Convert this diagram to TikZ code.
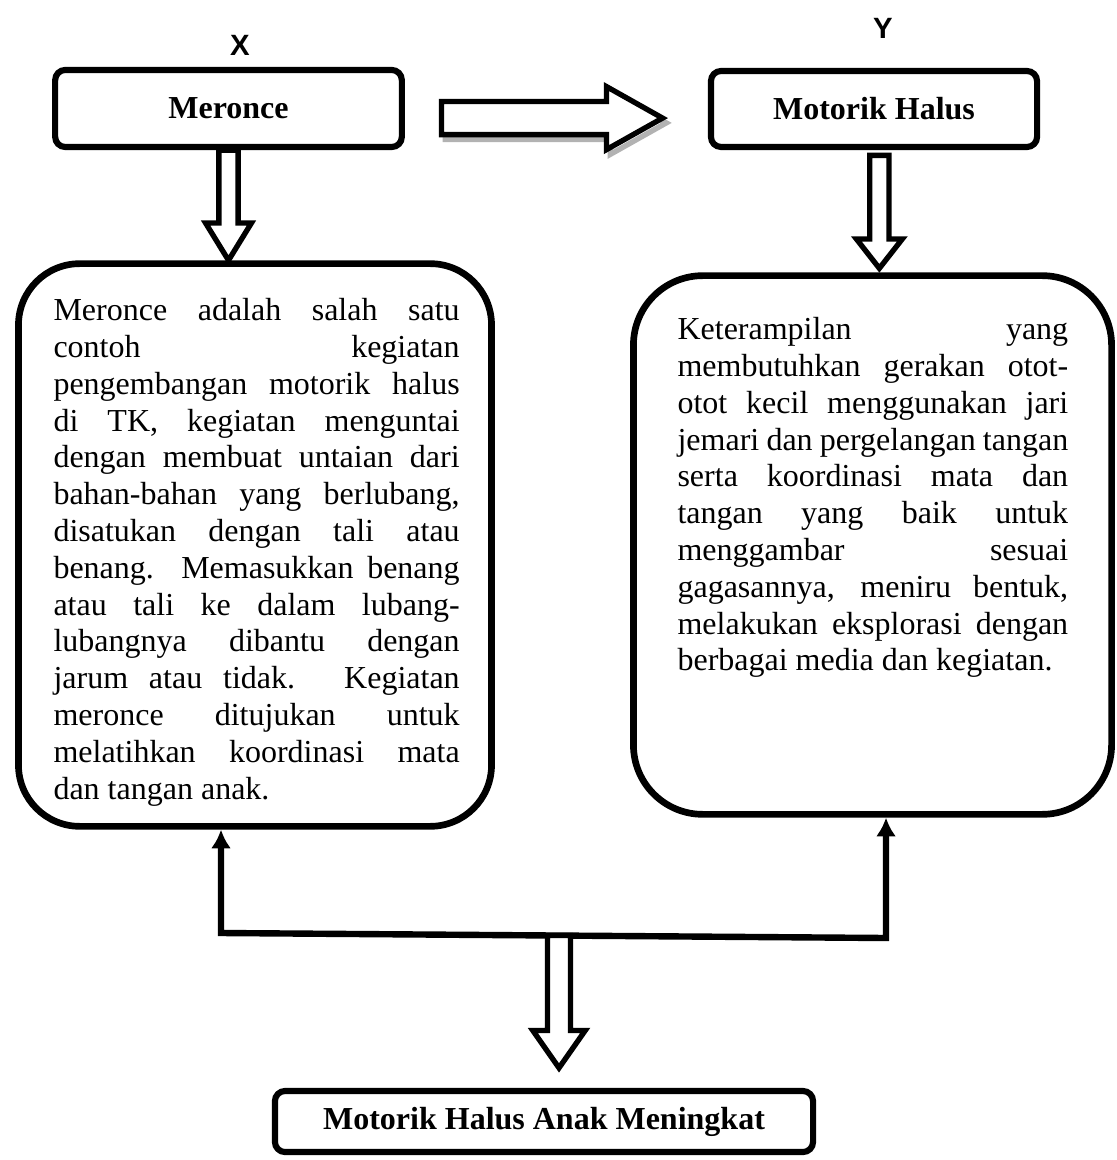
\documentclass[tikz,border=0pt]{standalone}
\usepackage{fontspec}
\setmainfont{Liberation Serif}
\setsansfont{Liberation Sans}
\usetikzlibrary{arrows.meta,calc}

\tikzset{
	box/.style={draw, line width=2.3pt, rounded corners=3.8pt, inner sep=0pt, font=\bfseries\fontsize{12}{14}\selectfont},
	bigbox/.style={draw, line width=2.5pt, inner sep=0pt},
	isi/.style={inner sep=0pt, align=justify, anchor=north west, font=\fontsize{12}{13.8}\selectfont},
	varlabel/.style={font=\sffamily\bfseries\fontsize{11}{13}\selectfont},
	hollow/.style={draw, fill=white, line width=2pt, line join=miter},
	shadowed/.style={preaction={draw=black!30, line width=2pt, transform canvas={shift={(1.4pt,-1.8pt)}}}},
	link/.style={line width=2.4pt, {Latex[length=7pt, width=7.5pt]}-{Latex[length=7pt, width=7.5pt]}},
}

% hollow block arrows: from, to, half shaft, half head, head length
\newcommand{\hollowdown}[5]{%
	\draw[hollow] let \p1=(#1), \p2=(#2) in
		(\x1-#3,\y1) -- (\x1-#3,\y2+#5) -- (\x1-#4,\y2+#5) -- (\x1,\y2)
		-- (\x1+#4,\y2+#5) -- (\x1+#3,\y2+#5) -- (\x1+#3,\y1) -- cycle;
}
\newcommand{\hollowright}[5]{%
	\draw[hollow, shadowed] let \p1=(#1), \p2=(#2) in
		(\x1,\y1-#3) -- (\x2-#5,\y1-#3) -- (\x2-#5,\y1-#4) -- (\x2,\y1)
		-- (\x2-#5,\y1+#4) -- (\x2-#5,\y1+#3) -- (\x1,\y1+#3) -- cycle;
}

\begin{document}
\begin{tikzpicture}[x=0.375pt, y=-0.375pt]
	\useasboundingbox (0,0) rectangle (1116,1160);
	% variables
	\node[varlabel] (labelX) at (240,45) {X};
	\node[varlabel] (labelY) at (883,28) {Y};
	\node[box, minimum width=130pt, minimum height=28.9pt] (meronce) at (228.5,108.5) {Meronce};
	\node[box, minimum width=122.3pt, minimum height=28.5pt] (motorik) at (874,109) {Motorik Halus};
	% descriptions
	\node[bigbox, rounded corners=23pt, minimum width=177.4pt, minimum height=211pt] (isiX) at (255,545) {};
	\node[bigbox, rounded corners=26pt, minimum width=179.3pt, minimum height=202pt] (isiY) at (872.5,545) {};
	\node[isi, text width=152.3pt] (teksX) at (53,298) {%
		Meronce adalah salah satu\linebreak
		contoh kegiatan\linebreak
		pengembangan motorik halus\linebreak
		di TK, kegiatan menguntai\linebreak
		dengan membuat untaian dari\linebreak
		bahan-bahan yang berlubang,\linebreak
		disatukan dengan tali atau\linebreak
		benang. Memasukkan benang\linebreak
		atau tali ke dalam lubang-\linebreak
		lubangnya dibantu dengan\linebreak
		jarum atau tidak. Kegiatan\linebreak
		meronce ditujukan untuk\linebreak
		melatihkan koordinasi mata\linebreak
		dan tangan anak.};
	\node[isi, text width=146.5pt] (teksY) at (677,317) {%
		Keterampilan yang\linebreak
		membutuhkan gerakan otot-\linebreak
		otot kecil menggunakan jari\linebreak
		jemari dan pergelangan tangan\linebreak
		serta koordinasi mata dan\linebreak
		tangan yang baik untuk\linebreak
		menggambar sesuai\linebreak
		gagasannya, meniru bentuk,\linebreak
		melakukan eksplorasi dengan\linebreak
		berbagai media dan kegiatan.};
	\node[box, minimum width=201.8pt, minimum height=22.9pt] (akhir) at (544,1121.5) {Motorik Halus Anak Meningkat};
	% arrows
	\hollowright{[shift={(13.7pt,-3.6pt)}]meronce.east}{[xshift=-17pt]motorik.west}{6.2pt}{11.8pt}{21pt}
	\hollowdown{meronce.south}{isiX.north}{3.6pt}{8.6pt}{14pt}
	\hollowdown{[shift={(2pt,-2pt)}]motorik.south}{[yshift=1.5pt]isiY.north}{3.6pt}{8.6pt}{11pt}
	\coordinate (kiri) at (221,933);
	\coordinate (kanan) at (886,938);
	\coordinate (tengah) at (559,935.5);
	\draw[link] (kiri |- isiX.south) -- (kiri) -- (kanan) -- (kanan |- isiY.south);
	\hollowdown{tengah}{[yshift=7.5pt]akhir.north}{4.3pt}{9.8pt}{14pt}
\end{tikzpicture}
\end{document}
